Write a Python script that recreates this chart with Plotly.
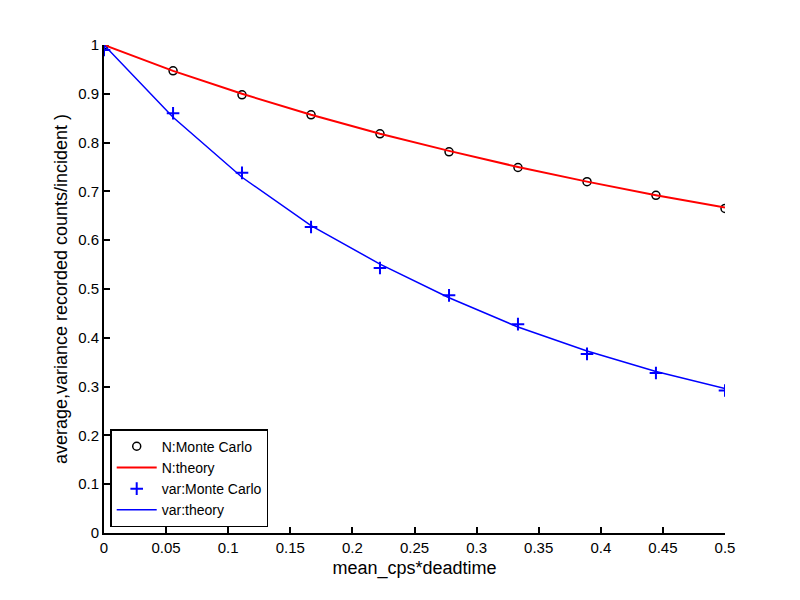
import plotly.graph_objects as go

x_vals = [0, 0.0556, 0.1111, 0.1667, 0.2222, 0.2778, 0.3333, 0.3889, 0.4444, 0.5]
n_mc = [1.0, 0.947, 0.898, 0.857, 0.818, 0.781, 0.749, 0.720, 0.692, 0.665]
n_theory = [1.0, 0.947, 0.900, 0.857, 0.818, 0.783, 0.750, 0.720, 0.692, 0.667]
var_mc = [0.99, 0.860, 0.738, 0.627, 0.543, 0.487, 0.428, 0.367, 0.328, 0.292]
var_theory = [1.0, 0.852, 0.729, 0.630, 0.551, 0.482, 0.422, 0.373, 0.331, 0.296]

x_ticks = [0, 0.05, 0.1, 0.15, 0.2, 0.25, 0.3, 0.35, 0.4, 0.45, 0.5]
x_tick_text = ["0", "0.05", "0.1", "0.15", "0.2", "0.25", "0.3", "0.35", "0.4", "0.45", "0.5"]
y_ticks = [0, 0.1, 0.2, 0.3, 0.4, 0.5, 0.6, 0.7, 0.8, 0.9, 1]
y_tick_text = ["0", "0.1", "0.2", "0.3", "0.4", "0.5", "0.6", "0.7", "0.8", "0.9", "1"]

fig = go.Figure()
fig.add_trace(go.Scatter(x=x_vals, y=n_mc, mode="markers", name="N:Monte Carlo",
                         marker=dict(symbol="circle-open", size=8, color="black",
                                     line=dict(color="black", width=1.5))))
fig.add_trace(go.Scatter(x=x_vals, y=n_theory, mode="lines", name="N:theory",
                         line=dict(color="#ff0000", width=2)))
fig.add_trace(go.Scatter(x=x_vals, y=var_mc, mode="markers", name="var:Monte Carlo",
                         marker=dict(symbol="cross-thin-open", size=9, color="#0000ff",
                                     line=dict(color="#0000ff", width=2))))
fig.add_trace(go.Scatter(x=x_vals, y=var_theory, mode="lines", name="var:theory",
                         line=dict(color="#0000ff", width=1.5)))

fig.update_layout(
    width=800, height=600,
    paper_bgcolor="white", plot_bgcolor="white",
    margin=dict(l=96, r=83, t=37, b=75, autoexpand=False),
    font=dict(family="Liberation Sans, Arial, sans-serif", size=15, color="black"),
    showlegend=True,
    legend=dict(x=0.01, y=0.012, xanchor="left", yanchor="bottom",
                bordercolor="black", borderwidth=1.5, bgcolor="white",
                font=dict(size=14), traceorder="normal",
                tracegroupgap=0, itemwidth=40),
    xaxis=dict(range=[0, 0.5], tickvals=x_ticks, ticktext=x_tick_text,
               ticks="inside", ticklen=6, tickwidth=1.5, tickcolor="black",
               showline=True, linecolor="black", linewidth=2, showgrid=False,
               zeroline=False, mirror=False, tickfont=dict(size=15),
               title=dict(text="mean_cps*deadtime", font=dict(size=18), standoff=6)),
    yaxis=dict(range=[0, 1], tickvals=y_ticks, ticktext=y_tick_text,
               ticks="inside", ticklen=6, tickwidth=1.5, tickcolor="black",
               showline=True, linecolor="black", linewidth=2, showgrid=False,
               zeroline=False, mirror=False, tickfont=dict(size=15),
               title=dict(text="average,variance recorded counts/incident )", font=dict(size=18), standoff=6)),
)

fig.write_html("out.html")
